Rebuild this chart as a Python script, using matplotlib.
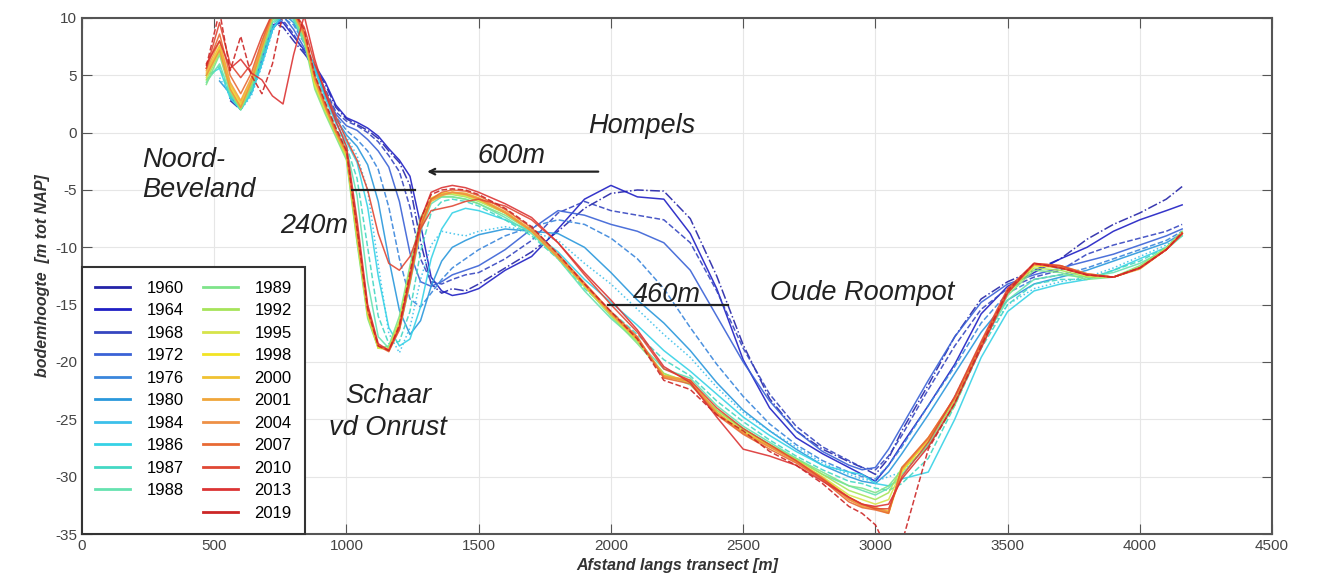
import matplotlib
matplotlib.use('Agg')
import matplotlib.pyplot as plt
from matplotlib.lines import Line2D
import numpy as np

plt.rcParams['font.family'] = ['Liberation Sans', 'DejaVu Sans']
plt.rcParams['axes.unicode_minus'] = False

nan = np.nan

# afstand langs transect [m]
afstand = [470, 520, 560, 600, 640, 680, 720, 760, 800, 840, 880,
           920, 960, 1000, 1040, 1080, 1120, 1160, 1200, 1240, 1280, 1320,
           1360, 1400, 1450, 1500, 1600, 1700, 1800, 1900, 2000, 2100, 2200,
           2300, 2400, 2500, 2600, 2700, 2800, 2900, 2950, 3000, 3050, 3100,
           3200, 3300, 3400, 3500, 3600, 3700, 3800, 3900, 4000, 4100, 4160]

# bodemhoogte per jaar [m tot NAP]
z1960 = [nan, nan, 2.8, 2.0, 4.2, 7.0, 9.6, 9.2, 8.0, 6.9, 5.7,
         4.2, 2.2, 1.2, 0.7, 0.2, -0.5, -1.6, -2.6, -4.6, -9.5, -13.2,
         -14.0, -13.6, -13.8, -13.2, -11.8, -10.4, -8.6, -6.6, -5.3, -5.0, -5.1,
         -7.5, -12.5, -18.5, -23.2, -26.0, -27.6, -28.7, -29.2, -29.8, -28.4, -26.0,
         -22.0, -17.8, -14.5, -13.0, -12.0, -11.0, -9.3, -8.0, -7.0, -5.8, -4.7]
z1964 = [nan, nan, 3.0, 2.2, 4.0, 6.8, 9.4, 9.6, 8.4, 7.2, 5.9,
         4.4, 2.4, 1.3, 0.9, 0.4, -0.3, -1.4, -2.4, -3.8, -8.0, -12.6,
         -13.8, -14.2, -14.0, -13.6, -12.0, -10.8, -8.4, -5.8, -4.6, -5.6, -5.8,
         -8.8, -13.6, -19.8, -24.0, -26.6, -28.0, -29.2, -29.8, -30.4, -29.0, -27.2,
         -23.8, -20.2, -15.8, -13.4, -12.2, -11.0, -10.0, -8.6, -7.6, -6.8, -6.3]
z1968 = [nan, nan, 3.2, 2.4, 3.8, 6.5, 9.2, 9.8, 8.6, 7.0, 5.4,
         3.8, 1.8, 1.0, 0.6, 0.0, -0.8, -2.0, -3.4, -6.5, -11.0, -13.0,
         -13.2, -12.8, -12.4, -12.2, -11.0, -9.4, -7.0, -6.0, -6.8, -7.2, -7.6,
         -9.6, -13.8, -18.8, -22.8, -25.6, -27.4, -28.6, -29.2, -29.4, -28.2, -26.4,
         -22.4, -18.6, -15.4, -13.6, -12.6, -12.0, -10.6, -9.8, -9.2, -8.6, -8.0]
z1972 = [nan, nan, 3.0, 2.2, 3.6, 6.2, 9.0, 10.2, 9.0, 7.4, 5.6,
         3.6, 1.6, 0.6, 0.2, -0.6, -1.6, -3.0, -6.0, -10.5, -13.0, -13.4,
         -13.0, -12.4, -12.0, -11.6, -10.2, -8.4, -6.8, -7.2, -8.0, -8.6, -9.6,
         -12.0, -16.0, -20.0, -23.4, -26.0, -27.8, -29.0, -29.4, -29.2, -27.6, -25.6,
         -21.6, -17.8, -14.8, -13.2, -12.4, -11.8, -11.2, -10.6, -9.8, -9.0, -8.4]
z1976 = [nan, nan, 3.0, 2.0, 3.6, 6.4, 9.2, 10.0, 9.4, 7.8, 5.8,
         3.4, 1.4, 0.2, -0.6, -1.6, -3.2, -6.5, -11.0, -14.5, -15.2, -14.0,
         -12.8, -11.8, -11.0, -10.2, -9.0, -8.2, -7.6, -8.0, -9.2, -11.0, -13.6,
         -17.0, -20.2, -23.0, -25.4, -27.2, -28.6, -29.6, -30.0, -30.2, -29.0, -27.4,
         -23.8, -20.4, -16.6, -14.0, -12.8, -12.4, -11.8, -11.0, -10.2, -9.4, -8.6]
z1980 = [nan, 4.5, 3.4, 2.2, 3.4, 6.0, 9.0, 10.4, 9.6, 8.0, 5.6,
         3.2, 1.2, -0.2, -1.2, -2.8, -6.0, -11.0, -15.5, -17.6, -16.4, -13.4,
         -11.2, -10.0, -9.4, -8.9, -8.4, -8.6, -8.8, -10.0, -12.2, -14.6, -16.6,
         -19.0, -21.8, -24.2, -26.0, -27.6, -29.0, -30.0, -30.4, -30.6, -29.6, -28.0,
         -24.6, -21.0, -17.4, -14.6, -13.2, -12.6, -12.0, -11.2, -10.4, -9.6, -8.8]
z1984 = [nan, 4.8, 3.2, 2.0, 3.2, 5.8, 8.8, 10.6, 9.8, 8.0, 5.4,
         3.0, 1.0, -0.4, -2.0, -5.0, -11.5, -17.5, -19.2, -17.0, -12.8, -9.8,
         -8.6, -8.8, -9.0, -8.6, -8.2, -8.6, -9.4, -11.4, -13.2, -15.4, -17.6,
         -19.6, -22.2, -24.4, -26.0, -27.4, -28.8, -29.8, -30.2, -30.4, -30.0, -29.6,
         -27.2, -23.0, -18.4, -15.0, -13.6, -13.0, -12.6, -11.8, -10.8, -9.8, -8.9]
z1986 = [5.0, 5.6, 3.0, 2.0, 3.4, 6.0, 9.0, 10.4, 10.0, 8.2, 5.6,
         3.0, 0.8, -0.8, -2.6, -6.5, -12.5, -17.0, -18.6, -18.0, -15.2, -11.0,
         -8.4, -7.0, -6.6, -6.8, -7.6, -8.6, -10.4, -12.8, -14.8, -16.8, -19.0,
         -20.8, -22.8, -24.8, -26.4, -27.8, -29.0, -29.6, -29.8, -30.6, -30.8, -30.2,
         -29.6, -25.0, -19.6, -15.6, -13.8, -13.2, -12.8, -12.0, -11.0, -10.0, -9.0]
z1987 = [4.6, 5.8, 3.2, 2.0, 3.6, 6.4, 9.4, 10.4, 9.8, 8.0, 5.2,
         2.6, 0.4, -1.2, -4.0, -10.0, -16.0, -18.4, -18.2, -15.6, -10.4, -7.0,
         -6.0, -5.8, -6.0, -6.4, -7.6, -9.0, -11.0, -13.6, -15.6, -17.6, -19.8,
         -21.2, -23.4, -25.2, -26.8, -28.2, -29.4, -30.4, -30.6, -31.0, -31.2, -30.6,
         -28.4, -23.8, -18.8, -15.0, -13.2, -12.8, -12.8, -12.0, -11.2, -10.0, -8.9]
z1988 = [4.4, 6.0, 3.4, 2.0, 3.8, 6.8, 9.6, 10.4, 10.0, 7.8, 4.8,
         2.4, 0.2, -1.4, -5.5, -13.0, -17.8, -18.8, -17.2, -13.2, -8.6, -6.2,
         -5.6, -5.6, -5.8, -6.2, -7.4, -8.8, -11.0, -13.8, -16.2, -18.2, -20.6,
         -21.4, -23.8, -25.6, -27.0, -28.4, -29.8, -30.8, -31.2, -31.6, -31.0, -29.8,
         -27.2, -23.2, -18.4, -14.6, -12.8, -12.4, -12.6, -12.2, -11.4, -10.2, -9.0]
z1989 = [4.2, 6.8, 3.6, 2.0, 4.0, 7.0, 9.8, 10.4, 10.2, 8.0, 3.8,
         1.6, -0.4, -2.4, -9.6, -16.2, -18.8, -18.6, -16.0, -11.6, -7.4, -5.8,
         -5.6, -5.6, -5.8, -6.2, -7.2, -8.6, -10.8, -13.4, -16.0, -18.4, -21.0,
         -22.0, -24.2, -25.8, -27.2, -28.4, -29.6, -30.8, -31.0, -31.4, -30.8, -29.4,
         -27.4, -23.8, -18.6, -14.2, -12.0, -12.2, -12.8, -12.6, -11.6, -10.0, -8.6]
z1992 = [4.6, 7.0, 3.8, 2.1, 4.2, 7.2, 10.0, 10.6, 10.4, 8.4, 4.0,
         1.8, -0.2, -2.2, -9.4, -16.0, -18.8, -18.8, -16.4, -12.0, -7.6, -5.8,
         -5.4, -5.4, -5.6, -6.0, -7.0, -8.6, -10.8, -13.4, -15.9, -18.2, -21.0,
         -21.8, -24.2, -25.9, -27.2, -28.5, -29.8, -31.2, -31.6, -32.0, -31.4, -29.2,
         -27.0, -23.4, -18.6, -14.0, -11.8, -12.0, -12.6, -12.6, -11.7, -10.1, -8.7]
z1995 = [4.8, 7.2, 3.8, 2.2, 4.4, 7.4, 10.2, 10.6, 10.4, 8.6, 4.2,
         2.0, -0.1, -2.0, -9.0, -15.8, -18.8, -18.9, -16.6, -12.2, -7.8, -5.8,
         -5.3, -5.3, -5.5, -5.9, -7.0, -8.6, -10.9, -13.4, -15.9, -18.1, -21.2,
         -21.8, -24.4, -26.0, -27.3, -28.6, -30.0, -31.6, -32.0, -32.4, -32.0, -29.4,
         -26.8, -23.2, -18.4, -13.9, -11.6, -11.8, -12.5, -12.6, -11.8, -10.1, -8.7]
z1998 = [5.0, 7.4, 4.0, 2.4, 4.4, 7.4, 10.2, 10.6, 10.4, 8.6, 4.4,
         2.1, 0.0, -1.9, -8.9, -15.7, -18.7, -18.9, -16.7, -12.4, -7.9, -5.7,
         -5.3, -5.2, -5.4, -5.8, -7.0, -8.6, -10.9, -13.3, -15.8, -18.0, -21.3,
         -21.7, -24.5, -26.1, -27.4, -28.6, -30.1, -31.8, -32.4, -32.8, -33.2, -29.6,
         -26.8, -23.2, -18.5, -13.9, -11.6, -11.7, -12.4, -12.6, -11.8, -10.2, -8.8]
z2000 = [5.2, 7.6, 4.2, 2.6, 4.6, 7.6, 10.4, 10.8, 10.4, 8.4, 4.6,
         2.2, 0.0, -1.8, -8.6, -15.4, -18.6, -19.0, -17.0, -12.8, -8.2, -5.9,
         -5.4, -5.2, -5.3, -5.7, -6.9, -8.5, -10.8, -13.2, -15.7, -18.0, -21.2,
         -21.6, -24.4, -26.1, -27.3, -28.6, -30.1, -31.9, -32.4, -32.7, -33.0, -29.4,
         -26.7, -23.2, -18.5, -13.9, -11.5, -11.7, -12.4, -12.6, -11.8, -10.2, -8.8]
z2001 = [5.4, 8.0, 4.4, 2.8, 4.8, 7.8, 10.4, 10.8, 10.4, 8.6, 4.8,
         2.3, 0.1, -1.7, -8.5, -15.3, -18.6, -19.0, -17.1, -13.0, -8.4, -6.0,
         -5.5, -5.2, -5.3, -5.7, -6.9, -8.5, -10.8, -13.2, -15.7, -17.9, -21.2,
         -21.6, -24.4, -26.2, -27.4, -28.7, -30.2, -32.0, -32.6, -32.8, -33.1, -29.3,
         -26.6, -23.1, -18.4, -13.8, -11.5, -11.6, -12.3, -12.6, -11.9, -10.2, -8.8]
z2004 = [5.0, 7.2, 3.8, 2.2, 4.4, 7.4, 10.2, 10.6, 10.4, 8.6, 4.6,
         2.2, 0.0, -1.8, -8.8, -15.6, -18.6, -18.9, -16.8, -12.6, -8.0, -5.8,
         -5.4, -5.2, -5.4, -5.8, -7.0, -8.6, -10.9, -13.3, -15.8, -18.0, -21.3,
         -21.7, -24.5, -26.2, -27.4, -28.6, -30.1, -32.0, -32.5, -32.7, -33.1, -29.3,
         -26.7, -23.2, -18.5, -13.9, -11.5, -11.7, -12.4, -12.6, -11.8, -10.2, -8.8]
z2007 = [5.6, 8.6, 5.0, 3.4, 5.2, 8.0, 10.4, 10.8, 10.6, 8.8, 5.0,
         2.4, 0.2, -1.6, -8.2, -15.2, -18.6, -19.1, -17.2, -13.0, -8.2, -5.8,
         -5.2, -5.0, -5.1, -5.5, -6.7, -8.3, -10.6, -13.1, -15.6, -17.8, -21.4,
         -21.9, -24.6, -26.3, -27.6, -28.8, -30.3, -32.2, -32.7, -32.9, -33.2, -29.2,
         -26.6, -23.1, -18.4, -13.8, -11.4, -11.6, -12.3, -12.6, -11.8, -10.2, -8.8]
z2010 = [5.6, 9.6, 6.0, 4.8, 6.0, 8.4, 10.4, 10.6, 10.6, 9.2, 6.0,
         3.6, 1.4, -0.6, -2.4, -5.0, -8.8, -11.4, -12.0, -10.8, -8.4, -6.8,
         -6.6, -6.4, -6.0, -5.8, -6.4, -7.6, -9.6, -12.4, -15.0, -17.4, -20.6,
         -21.6, -24.0, -25.8, -27.2, -28.6, -30.2, -31.8, -32.4, -32.8, -32.8, -30.0,
         -27.0, -23.0, -18.2, -13.6, -11.4, -11.6, -12.4, -12.6, -11.8, -10.2, -8.8]
z2013 = [6.0, 8.0, 5.6, 6.4, 5.2, 4.6, 3.2, 2.5, 6.8, 10.2, 6.4,
         3.4, 1.0, -1.2, -7.6, -15.0, -18.4, -19.0, -17.0, -12.6, -7.6, -5.2,
         -4.8, -4.6, -4.8, -5.2, -6.2, -7.4, -9.6, -12.2, -14.6, -17.2, -20.4,
         -21.8, -24.8, -27.6, -28.2, -29.0, -30.4, -31.8, -32.4, -32.6, -32.4, -30.2,
         -27.4, -23.6, -18.8, -14.0, -11.4, -11.8, -12.4, -12.6, -11.8, -10.2, -8.8]
z2019 = [5.8, 10.6, 5.4, 8.4, 5.0, 3.4, 6.0, 10.4, 10.6, 9.0, 5.0,
         2.6, 0.4, -1.6, -8.4, -15.4, -18.6, -19.0, -16.8, -12.2, -7.6, -5.4,
         -5.0, -4.9, -5.0, -5.4, -6.6, -8.2, -10.6, -13.2, -15.6, -18.0, -21.6,
         -22.4, -24.6, -26.0, -27.8, -29.0, -30.6, -32.6, -33.2, -34.2, -36.6, -35.8,
         -27.6, -23.6, -18.6, -13.8, -11.4, -11.8, -12.4, -12.6, -11.8, -10.2, -8.7]

jaren = ['1960', '1964', '1968', '1972', '1976', '1980', '1984', '1986', '1987', '1988',
         '1989', '1992', '1995', '1998', '2000', '2001', '2004', '2007', '2010', '2013', '2019']
profielen = [z1960, z1964, z1968, z1972, z1976, z1980, z1984, z1986, z1987, z1988,
             z1989, z1992, z1995, z1998, z2000, z2001, z2004, z2007, z2010, z2013, z2019]
kleuren = ['#2424a8', '#1f1fc4', '#3646c0', '#3a62d6', '#3a86dc', '#2a98dc', '#3cc0ea',
           '#36d2e6', '#44d8c4', '#66e2b0', '#7ee48a', '#a6e45a', '#d6e44a', '#f2e424',
           '#f0c232', '#f0a63a', '#ee9046', '#e86a34', '#e04834', '#dc3434', '#cc2626']
stijlen = ['-.', '-', '--', '-', '--', '-', ':', '-', '--', '-',
           '-', '-', '-', '-', '-', '-', '-', '-', '-', '-', '--']

fig = plt.figure(figsize=(13.32, 5.8), dpi=100)
ax = fig.add_axes([0.0616, 0.0793, 0.8934, 0.8897])

for z, c, ls in zip(profielen, kleuren, stijlen):
    ax.plot(afstand, z, color=c, lw=1.1, ls=ls, alpha=0.9)

ax.set_xlim(0, 4500)
ax.set_ylim(-35, 10)
ax.set_xticks(range(0, 4501, 500))
ax.set_yticks(range(-35, 11, 5))
ax.grid(True, color='#e6e6e6', lw=0.8)
ax.set_axisbelow(True)
ax.tick_params(direction='in', length=7, top=True, right=True, color='#555',
               labelsize=11, labelcolor='#444')
for s in ax.spines.values():
    s.set_color('#555')
    s.set_linewidth(1.5)

ax.set_xlabel('Afstand langs transect [m]', fontsize=11.5, fontstyle='italic',
              fontweight='bold', color='#333')
ax.set_ylabel('bodemhoogte  [m tot NAP]', fontsize=11.5, fontstyle='italic',
              fontweight='bold', color='#333')

# annotaties
kw = dict(fontsize=19.5, fontstyle='italic', color='#222', va='baseline')
ax.text(226, -3.0, 'Noord-', ha='left', **kw)
ax.text(226, -5.6, 'Beveland', ha='left', **kw)
ax.text(1006, -8.75, '240m', ha='right', **kw)
ax.text(1157, -23.6, 'Schaar', ha='center', **kw)
ax.text(1157, -26.4, 'vd Onrust', ha='center', **kw)
ax.text(1914, 0.0, 'Hompels', ha='left', **kw)
ax.text(1622, -2.65, '600m', ha='center', **kw)
ax.text(2212, -14.76, '460m', ha='center', **kw)
ax.text(2602, -14.6, 'Oude Roompot', ha='left', **kw)

ax.plot([1021, 1259], [-5, -5], color='#222', lw=1.6)
ax.plot([1989, 2443], [-15, -15], color='#222', lw=1.6)
ax.annotate('', xy=(1305, -3.4), xytext=(1952, -3.4),
            arrowprops=dict(arrowstyle='->', color='#222', lw=1.6,
                            shrinkA=0, shrinkB=0))

# legenda: 10 jaren links, 11 rechts
handles = [Line2D([0], [0], color=c, lw=2) for c in kleuren]
labels = list(jaren)
handles.insert(10, Line2D([0], [0], color='none'))
labels.insert(10, ' ')
leg = ax.legend(handles, labels, loc='lower left', ncol=2, fontsize=12,
                frameon=True, fancybox=False, edgecolor='#333', framealpha=1,
                borderaxespad=0, handlelength=2.1, handletextpad=1.0,
                columnspacing=1.1, labelspacing=0.45, borderpad=0.8)
leg.get_frame().set_linewidth(1.5)

fig.savefig('out.png', dpi=100)
